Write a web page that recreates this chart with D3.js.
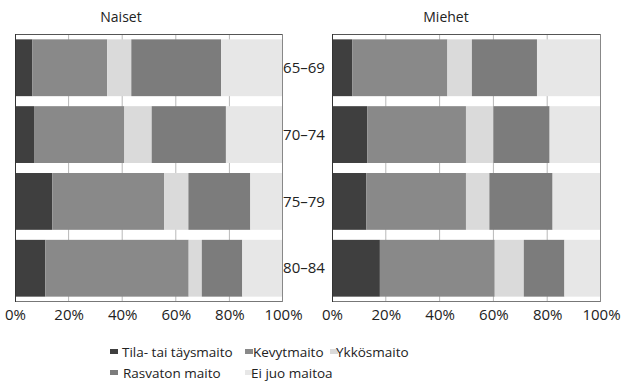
<!DOCTYPE html>
<html><head><meta charset="utf-8">
<script src="https://cdn.jsdelivr.net/npm/d3@7"></script>
<style>body{margin:0;background:#fff}text{font-family:"Open Sans",sans-serif;fill:#222}</style>
</head><body>
<svg id="c" width="627" height="382"></svg>
<script>
const ageGroups = ["65–69","70–74","75–79","80–84"];
const seriesNames = ["Tila- tai täysmaito","Kevytmaito","Ykkösmaito","Rasvaton maito","Ei juo maitoa"];
const seriesColors = ["#3f3f3f","#898989","#dadada","#7c7c7c","#e7e7e7"];
// Naiset (women), percent per series, rows follow ageGroups
const naisetTila     = [6.5, 7.1, 13.9, 11.3];
const naisetKevyt    = [27.9, 33.7, 41.8, 53.5];
const naisetYkkos    = [9.0, 10.2, 9.0, 4.9];
const naisetRasvaton = [33.5, 27.7, 23.1, 15.1];
const naisetEiJuo    = [23.1, 21.3, 12.2, 15.2];
// Miehet (men)
const miehetTila     = [7.5, 13.1, 12.8, 17.8];
const miehetKevyt    = [35.4, 36.7, 37.0, 42.7];
const miehetYkkos    = [9.1, 10.2, 8.7, 10.8];
const miehetRasvaton = [24.2, 20.9, 23.5, 15.1];
const miehetEiJuo    = [23.8, 19.1, 18.0, 13.6];
const tickValues = [0,20,40,60,80,100];
const panelTitles = ["Naiset","Miehet"];

const svg = d3.select("#c");
const y = d3.scaleBand().domain(ageGroups).range([34,302]).paddingInner(0.15).paddingOuter(0.08);

function panel(x0, x1, cols, title, titleX) {
  const x = d3.scaleLinear().domain([0,100]).range([x0,x1]);
  const g = svg.append("g");
  g.selectAll("line.grid").data(tickValues.slice(1,-1)).join("line")
    .attr("x1",d=>x(d)).attr("x2",d=>x(d)).attr("y1",34).attr("y2",302)
    .attr("stroke","#b8b8b8").attr("stroke-width",1);
  const rows = ageGroups.map((a,i)=>{
    const o = {age:a};
    seriesNames.forEach((s,j)=>o[s]=cols[j][i]);
    return o;
  });
  const stack = d3.stack().keys(seriesNames)(rows);
  stack.forEach((layer,j)=>{
    g.selectAll(null).data(layer).join("rect")
      .attr("x",d=>x(d[0])).attr("width",d=>x(d[1])-x(d[0]))
      .attr("y",d=>y(d.data.age)).attr("height",y.bandwidth())
      .attr("fill",seriesColors[j]);
  });
  g.append("line").attr("x1",x0).attr("x2",x1).attr("y1",34.5).attr("y2",34.5).attr("stroke","#555");
  g.append("line").attr("x1",x0).attr("x2",x1).attr("y1",301.5).attr("y2",301.5).attr("stroke","#777");
  g.append("line").attr("x1",x0+0.5).attr("x2",x0+0.5).attr("y1",34).attr("y2",302).attr("stroke","#333");
  g.append("line").attr("x1",x1-0.5).attr("x2",x1-0.5).attr("y1",34).attr("y2",302).attr("stroke","#888");
  const ax = d3.axisBottom(x).tickValues(tickValues).tickFormat(d=>d+"%").tickSize(0).tickPadding(7);
  const axg = g.append("g").attr("transform","translate(0,302)").call(ax);
  axg.select(".domain").remove();
  axg.selectAll("text").attr("font-size",15).attr("font-family","Open Sans").attr("fill","#222");
  g.append("text").attr("x",titleX).attr("y",22).attr("text-anchor","middle").attr("font-size",14).text(title);
}
panel(15, 283, [naisetTila,naisetKevyt,naisetYkkos,naisetRasvaton,naisetEiJuo], panelTitles[0], 121);
panel(332, 601, [miehetTila,miehetKevyt,miehetYkkos,miehetRasvaton,miehetEiJuo], panelTitles[1], 446);

svg.selectAll("text.age").data(ageGroups).join("text").attr("class","age")
  .attr("x",304).attr("y",d=>y(d)+y.bandwidth()/2).attr("dy","0.35em")
  .attr("text-anchor","middle").attr("font-size",15).text(d=>d);

const legendPos = [[110,352],[245,352],[330,352],[110,373],[245,373]];
const legendGap = [12,8,6,13,6];
const lg = svg.append("g");
seriesNames.forEach((s,i)=>{
  const [lx,ly] = legendPos[i];
  lg.append("rect").attr("x",lx).attr("y",ly-3).attr("width",8).attr("height",5).attr("fill",seriesColors[i]);
  lg.append("text").attr("x",lx+legendGap[i]).attr("y",ly).attr("dy","0.35em")
    .attr("font-size",13.5).text(s);
});
</script>
</body></html>
